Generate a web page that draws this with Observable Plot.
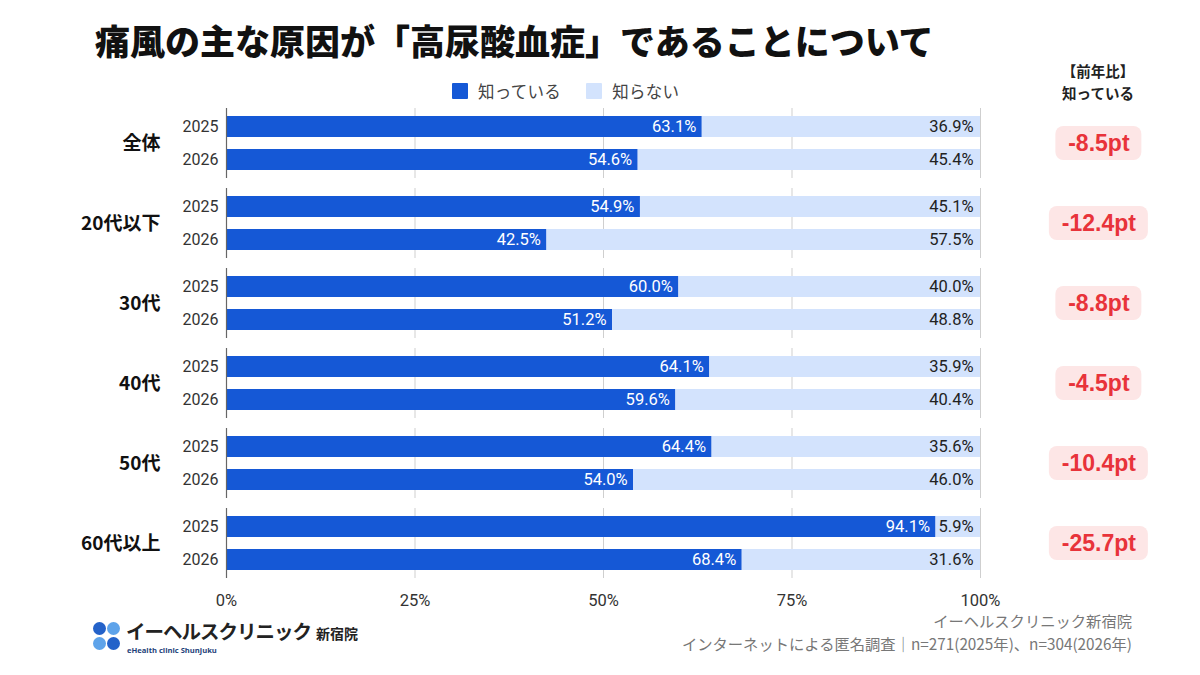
<!DOCTYPE html>
<html lang="ja">
<head>
<meta charset="utf-8">
<script src="https://cdn.jsdelivr.net/npm/d3@7"></script>
<script src="https://cdn.jsdelivr.net/npm/@observablehq/plot@0.6"></script>
<style>
  html, body { margin: 0; padding: 0; background: #fff; }
  body { width: 1200px; height: 675px; position: relative; overflow: hidden;
         font-family: Roboto, "Noto Sans CJK JP", sans-serif; }
  #title { position: absolute; left: 95px; top: 14px; font-family: "Noto Sans CJK JP", sans-serif;
           font-weight: 900; font-size: 35px; letter-spacing: 0px; color: #111; white-space: nowrap; }
  #legend { position: absolute; left: 452px; top: 79px; display: flex; align-items: center;
            font-family: "Noto Sans CJK JP", sans-serif; font-size: 16.5px; color: #444; }
  #legend .sw { width: 16px; height: 16px; display: inline-block; margin-right: 10px; border-radius: 1px; }
  #legend .item { display: flex; align-items: center; margin-right: 25px; letter-spacing: 0.3px; }
  #diffhead { position: absolute; left: 1038px; width: 120px; top: 60px; text-align: center;
              font-family: "Noto Sans CJK JP", sans-serif; font-weight: bold; font-size: 14.5px;
              line-height: 22px; color: #222; }
  #chart { position: absolute; left: 0; top: 100px; }
  #logo { position: absolute; left: 92px; top: 618px; width: 300px; height: 44px; }
  #logo .dots { position: absolute; left: 0; top: 4px; width: 30px; height: 30px; }
  #logo .dot { position: absolute; width: 13px; height: 13px; border-radius: 50%; }
  #logo .name { position: absolute; left: 34px; top: 0px; white-space: nowrap;
                font-family: "Noto Sans CJK JP", sans-serif; font-weight: bold; color: #222; line-height: 26px; }
  #logo .name .big { font-size: 19.5px; letter-spacing: -1px; }
  #logo .name .small { font-size: 14px; margin-left: 5px; }
  #logo .en { position: absolute; left: 35px; top: 27px; white-space: nowrap; font-family: "Open Sans", sans-serif;
              font-weight: bold; font-size: 7.6px; line-height: 10px; color: #1d3f7a; }
  #footer { position: absolute; right: 68px; top: 609px; text-align: right; white-space: nowrap;
            font-family: "Noto Sans CJK JP", sans-serif; font-size: 15.3px; line-height: 23px; color: #777; }
</style>
</head>
<body>
<div id="title">痛風の主な原因が「高尿酸血症」であることについて</div>
<div id="legend"></div>
<div id="diffhead">【前年比】<br>知っている</div>
<div id="chart"></div>
<div id="logo">
  <div class="dots">
    <div class="dot" style="left:1px;top:0;background:#2462c9"></div>
    <div class="dot" style="left:15px;top:0;background:#5ea3ea"></div>
    <div class="dot" style="left:1px;top:15px;background:#5ea3ea"></div>
    <div class="dot" style="left:15px;top:15px;background:#2462c9"></div>
  </div>
  <div class="name"><span class="big">イーヘルスクリニック</span><span class="small">新宿院</span></div>
  <div class="en">eHealth clinic Shunjuku</div>
</div>
<div id="footer">イーヘルスクリニック新宿院<br>インターネットによる匿名調査｜n=271(2025年)、n=304(2026年)</div>
<script>
// ---- data ----
const groups = ["全体", "20代以下", "30代", "40代", "50代", "60代以上"];
const years = ["2025", "2026"];
const know2025 = [63.1, 54.9, 60.0, 64.1, 64.4, 94.1];
const know2026 = [54.6, 42.5, 51.2, 59.6, 54.0, 68.4];
const notKnow2025 = [36.9, 45.1, 40.0, 35.9, 35.6, 5.9];
const notKnow2026 = [45.4, 57.5, 48.8, 40.4, 46.0, 31.6];
const diffLabels = ["-8.5pt", "-12.4pt", "-8.8pt", "-4.5pt", "-10.4pt", "-25.7pt"];
const seriesNames = ["知っている", "知らない"];
const xTicks = [0, 25, 50, 75, 100];

const colors = { know: "#1558d6", notKnow: "#d3e3fd" };

// ---- table ----
const rows = [];
groups.forEach((g, i) => {
  rows.push({ group: g, year: years[0], know: know2025[i], notKnow: notKnow2025[i] });
  rows.push({ group: g, year: years[1], know: know2026[i], notKnow: notKnow2026[i] });
});

// badges placed in the right margin (x units beyond 100%)
const pxPerUnit = 754 / 100;
const badgeCenter = 115.7;
const badges = groups.map((g, i) => {
  const half = (diffLabels[i].length * 13 + 8) / 2 / pxPerUnit;
  return { group: g, label: diffLabels[i], x1: badgeCenter - half, x2: badgeCenter + half };
});

// ---- legend ----
const legend = document.getElementById("legend");
[[seriesNames[0], colors.know], [seriesNames[1], colors.notKnow]].forEach(([name, c]) => {
  const item = document.createElement("div");
  item.className = "item";
  item.innerHTML = `<span class="sw" style="background:${c}"></span><span>${name}</span>`;
  legend.appendChild(item);
});

const fmt = (v) => v.toFixed(1) + "%";

const plot = Plot.plot({
  width: 1200,
  height: 515,
  marginLeft: 226,
  marginRight: 220,
  marginTop: 8,
  marginBottom: 37,
  style: { fontFamily: "Roboto, 'Noto Sans CJK JP', sans-serif", fontSize: "16px", color: "#333", background: "transparent" },
  x: { domain: [0, 100], ticks: xTicks, tickFormat: d => d + "%", axis: null },
  y: { domain: years, paddingInner: 0.36, paddingOuter: 0.24, axis: null },
  fy: { domain: groups, paddingInner: 0.125, paddingOuter: 0, axis: null },
  marks: [
    Plot.ruleX([25, 50, 75, 100], { stroke: "#cfcfcf", strokeWidth: 1 }),
    Plot.barX(rows, { fy: "group", y: "year", x1: 0, x2: "know", fill: colors.know }),
    Plot.barX(rows, { fy: "group", y: "year", x1: "know", x2: 100, fill: colors.notKnow }),
    Plot.ruleX([0], { stroke: "#666", strokeWidth: 1.2 }),
    Plot.text(rows, { fy: "group", y: "year", x: "know", text: d => fmt(d.know), textAnchor: "end", dx: -6, fill: "#fff", fontSize: 16.5 }),
    Plot.text(rows, { fy: "group", y: "year", x: 100, text: d => fmt(d.notKnow), textAnchor: "end", dx: -7, fill: "#222", fontSize: 16.5 }),
    Plot.rect(badges, { fy: "group", x1: "x1", x2: "x2", insetTop: 18, insetBottom: 18, rx: 8, fill: "#fde6e6" }),
    Plot.text(badges, { fy: "group", x: badgeCenter, text: "label", fill: "#e8333a", fontWeight: "bold", fontSize: 23,
      fontFamily: "'Liberation Sans', Arial, sans-serif" }),
    Plot.axisY({ anchor: "left", tickSize: 0, tickPadding: 8, label: null, fontSize: 16, color: "#333" }),
    Plot.axisFy({ anchor: "left", tickSize: 0, tickPadding: 66, label: null, fontSize: 19, fontWeight: "bold", color: "#111",
      fontFamily: "'Noto Sans CJK JP', sans-serif" }),
    Plot.axisX({ anchor: "bottom", ticks: xTicks, tickFormat: d => d + "%", tickSize: 0, tickPadding: 16, label: null, fontSize: 16.5, color: "#333" })
  ]
});
document.getElementById("chart").appendChild(plot);
</script>
</body>
</html>
